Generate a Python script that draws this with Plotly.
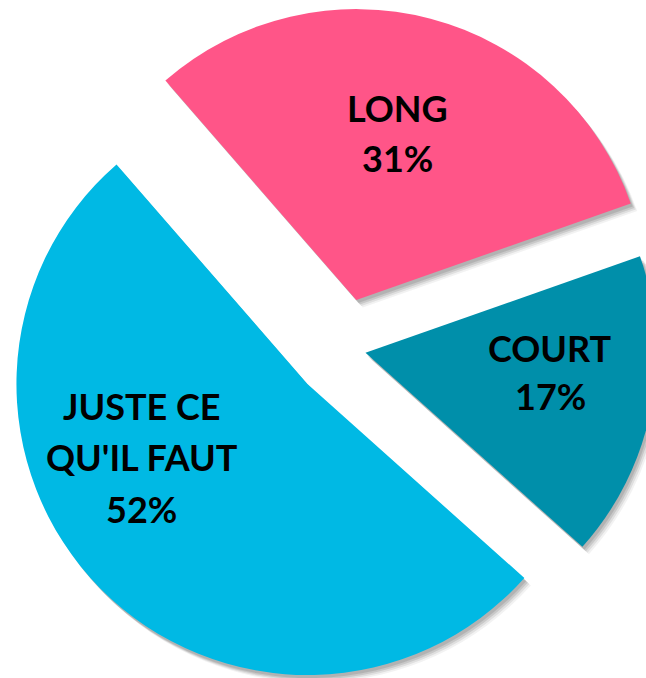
import plotly.graph_objects as go

# ---- data ----
labels = ["LONG", "COURT", "JUSTE CE QU'IL FAUT"]
values = [31, 17, 52]
label_lines = [["LONG"], ["COURT"], ["JUSTE CE", "QU'IL FAUT"]]

# ---- styles ----
colors = ["#FF5588", "#008FAA", "#00B9E4"]
pulls = [0.172, 0.077, 0.174]
W, H = 700, 700
cx, cy, R = 343.5, 348.5, 291.0
rotation = -41

half = R * (1 + max(pulls))


def domain(dx=0.0, dy=0.0):
    x0 = (cx + dx - half) / W
    x1 = (cx + dx + half) / W
    y0 = 1 - (cy + dy + half) / H
    y1 = 1 - (cy + dy - half) / H
    return dict(x=[x0, x1], y=[y0, y1])


fig = go.Figure()

# soft drop shadow (stacked translucent copies)
for off, a in [(2.0, 0.10), (3.5, 0.10), (5.0, 0.08), (6.5, 0.05)]:
    fig.add_trace(go.Pie(
        labels=labels, values=values, sort=False, direction="clockwise",
        rotation=rotation, pull=pulls, domain=domain(off, off + 1),
        marker=dict(colors=[f"rgba(0,0,0,{a})"] * 3, line=dict(width=0)),
        textinfo="none", hoverinfo="skip", showlegend=False,
    ))

fig.add_trace(go.Pie(
    labels=labels, values=values, sort=False, direction="clockwise",
    rotation=rotation, pull=pulls, domain=domain(),
    marker=dict(colors=colors, line=dict(width=0)),
    textinfo="none", showlegend=False,
))

# label placement: (center x, y of each text line) in pixels
text_x = [397, 550, 141.5]
text_y = [[108, 158], [347.5, 396], [406, 456.5, 508.5]]

total = sum(values)
for lines, v, px, ys in zip(label_lines, values, text_x, text_y):
    pct = round(100 * v / total)
    for line, py in zip(lines + [f"{pct}%"], ys):
        fig.add_annotation(
            x=px / W, y=1 - py / H, xref="paper", yref="paper",
            text=f"<b>{line}</b>", showarrow=False,
            xanchor="center", yanchor="middle", align="center",
            font=dict(family="Lato", size=36, color="black"),
        )

fig.update_layout(
    width=W, height=H, margin=dict(l=0, r=0, t=0, b=0),
    paper_bgcolor="white", plot_bgcolor="white", showlegend=False,
)

fig.write_html(
    "out.html",
    post_script=(
        "document.body.style.margin='0';"
        "document.documentElement.style.overflow='hidden';"
        "document.body.style.overflow='hidden';"
    ),
)
